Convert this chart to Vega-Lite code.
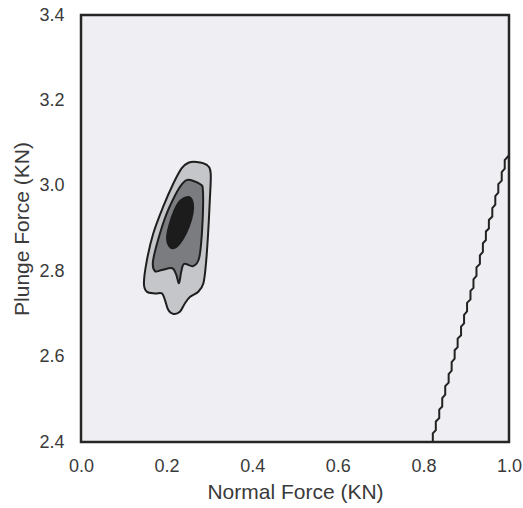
{
  "$schema": "https://vega.github.io/schema/vega-lite/v6.json",
  "width": 428,
  "height": 427,
  "autosize": "none",
  "padding": {"left": 81, "top": 15, "right": 14, "bottom": 66},
  "background": "#ffffff",
  "config": {
    "view": {"fill": "#efeff3", "stroke": "#262626", "strokeWidth": 2.5},
    "axis": {
      "domain": false, "ticks": false, "grid": false,
      "labelFont": "Liberation Sans", "labelFontSize": 18, "labelColor": "#3a3a3a",
      "titleFont": "Liberation Sans", "titleFontSize": 21, "titleFontWeight": "normal", "titleColor": "#3a3a3a"
    }
  },
  "data": {"values": [
    {"shape": "outer", "i": 0, "x": 0.251, "y": 3.054},
    {"shape": "outer", "i": 1, "x": 0.270, "y": 3.056},
    {"shape": "outer", "i": 2, "x": 0.294, "y": 3.049},
    {"shape": "outer", "i": 3, "x": 0.303, "y": 3.029},
    {"shape": "outer", "i": 4, "x": 0.301, "y": 2.967},
    {"shape": "outer", "i": 5, "x": 0.297, "y": 2.889},
    {"shape": "outer", "i": 6, "x": 0.292, "y": 2.818},
    {"shape": "outer", "i": 7, "x": 0.286, "y": 2.772},
    {"shape": "outer", "i": 8, "x": 0.274, "y": 2.752},
    {"shape": "outer", "i": 9, "x": 0.255, "y": 2.740},
    {"shape": "outer", "i": 10, "x": 0.243, "y": 2.725},
    {"shape": "outer", "i": 11, "x": 0.231, "y": 2.705},
    {"shape": "outer", "i": 12, "x": 0.216, "y": 2.700},
    {"shape": "outer", "i": 13, "x": 0.204, "y": 2.709},
    {"shape": "outer", "i": 14, "x": 0.196, "y": 2.733},
    {"shape": "outer", "i": 15, "x": 0.189, "y": 2.748},
    {"shape": "outer", "i": 16, "x": 0.173, "y": 2.748},
    {"shape": "outer", "i": 17, "x": 0.154, "y": 2.752},
    {"shape": "outer", "i": 18, "x": 0.147, "y": 2.772},
    {"shape": "outer", "i": 19, "x": 0.154, "y": 2.826},
    {"shape": "outer", "i": 20, "x": 0.169, "y": 2.889},
    {"shape": "outer", "i": 21, "x": 0.192, "y": 2.951},
    {"shape": "outer", "i": 22, "x": 0.216, "y": 3.006},
    {"shape": "outer", "i": 23, "x": 0.235, "y": 3.041},

    {"shape": "middle", "i": 0, "x": 0.250, "y": 3.014},
    {"shape": "middle", "i": 1, "x": 0.278, "y": 3.004},
    {"shape": "middle", "i": 2, "x": 0.285, "y": 2.986},
    {"shape": "middle", "i": 3, "x": 0.283, "y": 2.897},
    {"shape": "middle", "i": 4, "x": 0.276, "y": 2.831},
    {"shape": "middle", "i": 5, "x": 0.262, "y": 2.812},
    {"shape": "middle", "i": 6, "x": 0.241, "y": 2.817},
    {"shape": "middle", "i": 7, "x": 0.234, "y": 2.798},
    {"shape": "middle", "i": 8, "x": 0.229, "y": 2.772},
    {"shape": "middle", "i": 9, "x": 0.222, "y": 2.793},
    {"shape": "middle", "i": 10, "x": 0.213, "y": 2.807},
    {"shape": "middle", "i": 11, "x": 0.189, "y": 2.803},
    {"shape": "middle", "i": 12, "x": 0.173, "y": 2.800},
    {"shape": "middle", "i": 13, "x": 0.168, "y": 2.822},
    {"shape": "middle", "i": 14, "x": 0.180, "y": 2.873},
    {"shape": "middle", "i": 15, "x": 0.199, "y": 2.932},
    {"shape": "middle", "i": 16, "x": 0.220, "y": 2.978},
    {"shape": "middle", "i": 17, "x": 0.236, "y": 3.004},

    {"shape": "inner", "i": 0, "x": 0.250, "y": 2.974},
    {"shape": "inner", "i": 1, "x": 0.259, "y": 2.967},
    {"shape": "inner", "i": 2, "x": 0.262, "y": 2.948},
    {"shape": "inner", "i": 3, "x": 0.257, "y": 2.920},
    {"shape": "inner", "i": 4, "x": 0.245, "y": 2.889},
    {"shape": "inner", "i": 5, "x": 0.231, "y": 2.866},
    {"shape": "inner", "i": 6, "x": 0.217, "y": 2.854},
    {"shape": "inner", "i": 7, "x": 0.206, "y": 2.859},
    {"shape": "inner", "i": 8, "x": 0.201, "y": 2.878},
    {"shape": "inner", "i": 9, "x": 0.206, "y": 2.906},
    {"shape": "inner", "i": 10, "x": 0.217, "y": 2.939},
    {"shape": "inner", "i": 11, "x": 0.231, "y": 2.964},

    {"shape": "edge", "i": 0, "x": 0.822, "y": 2.400},
    {"shape": "edge", "i": 1, "x": 0.822, "y": 2.420},
    {"shape": "edge", "i": 2, "x": 0.829, "y": 2.428},
    {"shape": "edge", "i": 3, "x": 0.829, "y": 2.448},
    {"shape": "edge", "i": 4, "x": 0.837, "y": 2.456},
    {"shape": "edge", "i": 5, "x": 0.837, "y": 2.476},
    {"shape": "edge", "i": 6, "x": 0.844, "y": 2.483},
    {"shape": "edge", "i": 7, "x": 0.844, "y": 2.503},
    {"shape": "edge", "i": 8, "x": 0.851, "y": 2.511},
    {"shape": "edge", "i": 9, "x": 0.851, "y": 2.531},
    {"shape": "edge", "i": 10, "x": 0.859, "y": 2.539},
    {"shape": "edge", "i": 11, "x": 0.859, "y": 2.559},
    {"shape": "edge", "i": 12, "x": 0.866, "y": 2.567},
    {"shape": "edge", "i": 13, "x": 0.866, "y": 2.587},
    {"shape": "edge", "i": 14, "x": 0.873, "y": 2.595},
    {"shape": "edge", "i": 15, "x": 0.873, "y": 2.615},
    {"shape": "edge", "i": 16, "x": 0.880, "y": 2.622},
    {"shape": "edge", "i": 17, "x": 0.880, "y": 2.642},
    {"shape": "edge", "i": 18, "x": 0.888, "y": 2.650},
    {"shape": "edge", "i": 19, "x": 0.888, "y": 2.670},
    {"shape": "edge", "i": 20, "x": 0.895, "y": 2.678},
    {"shape": "edge", "i": 21, "x": 0.895, "y": 2.698},
    {"shape": "edge", "i": 22, "x": 0.902, "y": 2.706},
    {"shape": "edge", "i": 23, "x": 0.902, "y": 2.726},
    {"shape": "edge", "i": 24, "x": 0.910, "y": 2.734},
    {"shape": "edge", "i": 25, "x": 0.910, "y": 2.754},
    {"shape": "edge", "i": 26, "x": 0.917, "y": 2.761},
    {"shape": "edge", "i": 27, "x": 0.917, "y": 2.781},
    {"shape": "edge", "i": 28, "x": 0.924, "y": 2.789},
    {"shape": "edge", "i": 29, "x": 0.924, "y": 2.809},
    {"shape": "edge", "i": 30, "x": 0.932, "y": 2.817},
    {"shape": "edge", "i": 31, "x": 0.932, "y": 2.837},
    {"shape": "edge", "i": 32, "x": 0.939, "y": 2.845},
    {"shape": "edge", "i": 33, "x": 0.939, "y": 2.865},
    {"shape": "edge", "i": 34, "x": 0.946, "y": 2.873},
    {"shape": "edge", "i": 35, "x": 0.946, "y": 2.893},
    {"shape": "edge", "i": 36, "x": 0.953, "y": 2.900},
    {"shape": "edge", "i": 37, "x": 0.953, "y": 2.920},
    {"shape": "edge", "i": 38, "x": 0.961, "y": 2.928},
    {"shape": "edge", "i": 39, "x": 0.961, "y": 2.948},
    {"shape": "edge", "i": 40, "x": 0.968, "y": 2.956},
    {"shape": "edge", "i": 41, "x": 0.968, "y": 2.976},
    {"shape": "edge", "i": 42, "x": 0.975, "y": 2.984},
    {"shape": "edge", "i": 43, "x": 0.975, "y": 3.004},
    {"shape": "edge", "i": 44, "x": 0.983, "y": 3.012},
    {"shape": "edge", "i": 45, "x": 0.983, "y": 3.032},
    {"shape": "edge", "i": 46, "x": 0.990, "y": 3.040},
    {"shape": "edge", "i": 47, "x": 0.990, "y": 3.060},
    {"shape": "edge", "i": 48, "x": 0.997, "y": 3.068},
    {"shape": "edge", "i": 49, "x": 1.000, "y": 3.072}
  ]},
  "encoding": {
    "x": {"field": "x", "type": "quantitative",
      "scale": {"domain": [0, 1], "nice": false, "zero": false},
      "axis": {"title": "Normal Force (KN)", "values": [0, 0.2, 0.4, 0.6, 0.8, 1.0], "format": ".1f", "labelPadding": 15, "titlePadding": 6, "labelFlush": false}},
    "y": {"field": "y", "type": "quantitative",
      "scale": {"domain": [2.4, 3.4], "nice": false, "zero": false},
      "axis": {"title": "Plunge Force (KN)", "values": [2.4, 2.6, 2.8, 3.0, 3.2, 3.4], "format": ".1f", "labelPadding": 17, "titlePadding": 6, "labelFlush": false}},
    "order": {"field": "i", "type": "quantitative"}
  },
  "layer": [
    {"transform": [{"filter": "datum.shape === 'outer'"}],
     "mark": {"type": "line", "fill": "#c5c6ca", "stroke": "#1e1e1e", "strokeWidth": 2, "interpolate": "cardinal-closed"}},
    {"transform": [{"filter": "datum.shape === 'middle'"}],
     "mark": {"type": "line", "fill": "#7b7c80", "stroke": "#1e1e1e", "strokeWidth": 2, "interpolate": "cardinal-closed"}},
    {"transform": [{"filter": "datum.shape === 'inner'"}],
     "mark": {"type": "line", "fill": "#1c1c1c", "stroke": "#1c1c1c", "strokeWidth": 2, "interpolate": "cardinal-closed"}},
    {"transform": [{"filter": "datum.shape === 'edge'"}],
     "mark": {"type": "line", "stroke": "#222222", "strokeWidth": 2}}
  ]
}
